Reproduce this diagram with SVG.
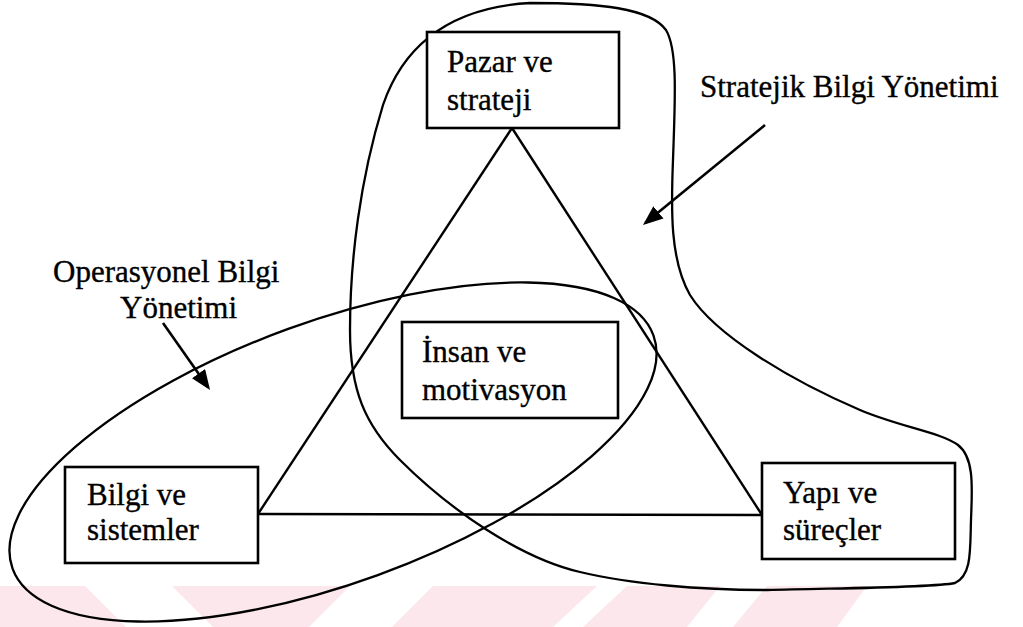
<svg xmlns="http://www.w3.org/2000/svg" width="1023" height="627" viewBox="0 0 1023 627">
  <style>
    .box { fill: #ffffff; stroke: #000; stroke-width: 2.6; }
    .lbl { font-family: "Liberation Serif", "Times New Roman", serif; font-size: 31px; fill: #000; stroke: #000; stroke-width: 0.35; }
    .edge { fill: none; stroke: #000; stroke-width: 2.4; }
    .area { fill: none; stroke: #000; stroke-width: 2.3; }
    .ptr { fill: none; stroke: #000; stroke-width: 2.6; marker-end: url(#head); }
    .band { fill: #fce8ec; }
  </style>
  <defs>
    <marker id="head" markerUnits="userSpaceOnUse" markerWidth="22" markerHeight="18" refX="17" refY="8" orient="auto">
      <path d="M0,0 L20,8 L0,16 Z" fill="#000"/>
    </marker>
  </defs>

  <rect width="1023" height="627" fill="#ffffff"/>

  <!-- light diagonal bands along the bottom edge -->
  <g id="bands">
    <polygon class="band" points="0,586 85,586 126,627 0,627"/>
    <polygon class="band" points="172,586 350,586 309,627 213,627"/>
    <polygon class="band" points="433,586 597,586 553,627 392,627"/>
    <polygon class="band" points="627,586 720,586 687,627 583,627"/>
    <polygon class="band" points="767,586 867,586 837,627 733,627"/>
  </g>

  <!-- regions: strategic (free-form loop) and operational (ellipse) -->
  <g id="regions">
    <path id="strategic-region" class="area" d="M530,3 C600,3 650,8 666,30 C678,50 675,100 673,160 C671,210 670,260 690,295 C715,335 790,380 860,410 C900,427 940,432 958,445 C975,458 972,490 971,520 C970,550 972,575 955,583 C930,588 840,588 767,590 C700,590 630,584 580,572 C520,558 450,510 400,460 C365,425 350,390 350,330 C350,260 360,180 383,105 C400,55 440,8 530,3 Z"/>
    <ellipse id="operational-region" class="area" cx="333" cy="452" rx="341" ry="131" transform="rotate(-20 333 452)"/>
  </g>

  <!-- connectors: triangle between the three corner nodes, and label pointers -->
  <g id="connectors">
    <line class="edge" x1="512" y1="128" x2="258" y2="514"/>
    <line class="edge" x1="512" y1="128" x2="762" y2="515"/>
    <line class="edge" x1="258" y1="514" x2="762" y2="515"/>
    <line class="ptr" x1="765" y1="125" x2="645.3" y2="223.1"/>
    <line class="ptr" x1="163" y1="323" x2="208.3" y2="387.5"/>
  </g>

  <g id="node-pazar">
    <rect class="box" x="427" y="32" width="192" height="96"/>
    <text class="lbl" x="447" y="72">Pazar ve</text>
    <text class="lbl" x="447" y="110">strateji</text>
  </g>

  <g id="node-insan">
    <rect class="box" x="402" y="322" width="216" height="96"/>
    <text class="lbl" x="422" y="362">İnsan ve</text>
    <text class="lbl" x="422" y="400">motivasyon</text>
  </g>

  <g id="node-bilgi">
    <rect class="box" x="65" y="467" width="193" height="96"/>
    <text class="lbl" x="87" y="505">Bilgi ve</text>
    <text class="lbl" x="87" y="540">sistemler</text>
  </g>

  <g id="node-yapi">
    <rect class="box" x="762" y="463" width="193" height="96"/>
    <text class="lbl" x="783" y="503">Yapı ve</text>
    <text class="lbl" x="783" y="540">süreçler</text>
  </g>

  <g id="label-strategic">
    <text class="lbl" x="700" y="97">Stratejik Bilgi Yönetimi</text>
  </g>

  <g id="label-operational">
    <text class="lbl" x="53" y="282">Operasyonel Bilgi</text>
    <text class="lbl" x="120" y="318">Yönetimi</text>
  </g>
</svg>
